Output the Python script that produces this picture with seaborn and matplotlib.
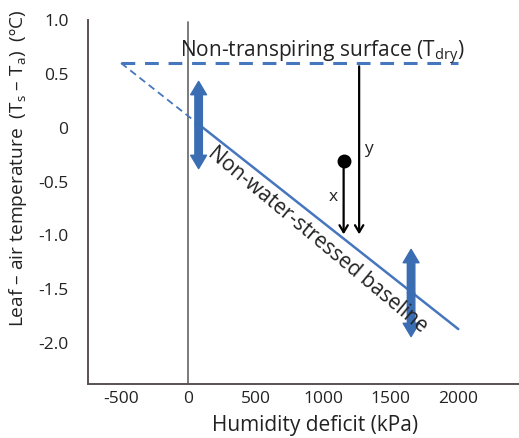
import numpy as np
import pandas as pd
import matplotlib
matplotlib.use("Agg")
import matplotlib.pyplot as plt
import seaborn as sns

# ---- data ----
dry_x = [-500, 2000]
dry_y = [0.6, 0.6]
base_dash_x = [-500, 100]
base_dash_y = [0.6, 0.007]
base_solid_x = [100, 2000]
base_solid_y = [0.007, -1.87]
range_arrow_x = [75, 1650]
range_arrow_top = [0.43, -1.13]
range_arrow_bot = [-0.38, -1.94]
point_x = [1150]
point_y = [-0.31]
y_arrow_x = [1265]
y_arrow_top = [0.57]
arrow_tip_y = [-0.99]
xticks = [-500, 0, 500, 1000, 1500, 2000]
xtick_labels = ["-500", "0", "500", "1000", "1500", "2000"]
yticks = [1.0, 0.5, 0, -0.5, -1.0, -1.5, -2.0]
ytick_labels = ["1.0", "0.5", "0", "-0.5", "-1.0", "-1.5", "-2.0"]

sns.set_style("white")
plt.rcParams['font.family'] = ['Open Sans', 'DejaVu Sans']
plt.rcParams['axes.unicode_minus'] = False
plt.rcParams['mathtext.fontset'] = 'custom'
plt.rcParams['mathtext.rm'] = 'Open Sans'

BLUE = "#4676bd"
ARROW_BLUE = "#3b6db3"
SPINE = "#5a5252"
TXT = "#222222"

fig = plt.figure(figsize=(5.19, 4.38), dpi=100)
ax = fig.add_axes([88/519, 1-384/438, 1-88/519, (384-20)/438])
ax.set_xlim(-745, 2450)
ax.set_ylim(-2.38, 1.0)

df_dry = pd.DataFrame({"x": dry_x, "y": dry_y})
sns.lineplot(data=df_dry, x="x", y="y", ax=ax, color=BLUE, lw=2.2,
             linestyle=(0, (4.5, 3.2)))
df_bd = pd.DataFrame({"x": base_dash_x, "y": base_dash_y})
sns.lineplot(data=df_bd, x="x", y="y", ax=ax, color=BLUE, lw=1.3,
             linestyle=(0, (4, 2.5)))
df_bs = pd.DataFrame({"x": base_solid_x, "y": base_solid_y})
sns.lineplot(data=df_bs, x="x", y="y", ax=ax, color=BLUE, lw=1.8)

# zero vertical line
ax.plot([0, 0], [0.985, -2.38], color="#707070", lw=1.3, zorder=1)

# blue double arrows
for xa, yt, yb in zip(range_arrow_x, range_arrow_top, range_arrow_bot):
    ym = (yt + yb) / 2
    for tgt in (yt, yb):
        ax.annotate("", xy=(xa, tgt), xytext=(xa, ym),
                    arrowprops=dict(arrowstyle="simple,head_length=0.8,head_width=0.95,tail_width=0.45",
                                    color=ARROW_BLUE, shrinkA=0, shrinkB=0,
                                    mutation_scale=12), zorder=3)

# black point and arrows
ax.plot(point_x, point_y, "o", color="black", ms=9, zorder=5)
ax.annotate("", xy=(point_x[0], arrow_tip_y[0]), xytext=(point_x[0], point_y[0]),
            arrowprops=dict(arrowstyle="->,head_length=0.5,head_width=0.3",
                            color="black", lw=1.6, shrinkA=0, shrinkB=0), zorder=4)
ax.annotate("", xy=(y_arrow_x[0], arrow_tip_y[0]), xytext=(y_arrow_x[0], y_arrow_top[0]),
            arrowprops=dict(arrowstyle="->,head_length=0.5,head_width=0.3",
                            color="black", lw=1.6, shrinkA=0, shrinkB=0), zorder=4)
ax.text(1075, -0.64, "x", fontsize=12.5, ha="center", va="center", color=TXT)
ax.text(1335, -0.20, "y", fontsize=12.5, ha="center", va="center", color=TXT)

# texts
ax.text(995, 0.652, "Non-transpiring surface (T$_{\\mathregular{dry}}$)",
        fontsize=15, ha="center", va="baseline", color=TXT)
fig.canvas.draw()
p1 = ax.transData.transform((base_solid_x[0], base_solid_y[0]))
p2 = ax.transData.transform((base_solid_x[1], base_solid_y[1]))
ang = np.degrees(np.arctan2(p2[1]-p1[1], p2[0]-p1[0])) - 1.5
ax.text(960, -1.04, "Non-water-stressed baseline", fontsize=15,
        rotation=ang, rotation_mode="anchor", ha="center", va="center",
        color=TXT)

# axes styling
ax.set_xticks(xticks)
ax.set_xticklabels(xtick_labels)
ax.set_yticks(yticks)
ax.set_yticklabels(ytick_labels)
ax.tick_params(axis="both", direction="in", length=12, width=1.3, color=SPINE,
               labelsize=12.5, labelcolor=TXT)
ax.tick_params(axis="y", pad=14)
ax.tick_params(axis="x", pad=5)
for s in ["top", "right"]:
    ax.spines[s].set_visible(False)
for s in ["left", "bottom"]:
    ax.spines[s].set_color(SPINE)
    ax.spines[s].set_linewidth(1.4)
ax.set_xlabel("")
ax.set_ylabel("")

fig.text(315/519, 1-426/438, "Humidity deficit (kPa)", fontsize=15,
         ha="center", va="center", color=TXT)
fig.text(18/519, 1-168/438,
         "Leaf – air temperature  (T$_{\\mathregular{s}}$ – T$_{\\mathregular{a}}$)  (ºC)",
         fontsize=13.8, rotation=90, ha="center", va="center", color=TXT)

fig.savefig("out.png", dpi=100)
